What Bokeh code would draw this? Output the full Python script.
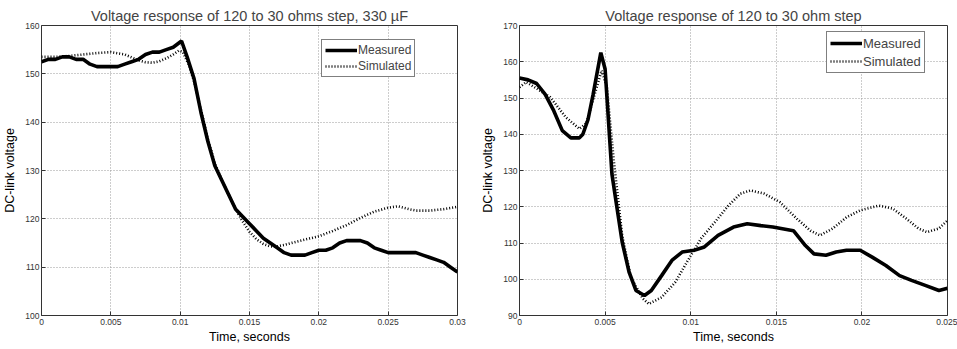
from bokeh.plotting import figure
from bokeh.layouts import row
from bokeh.models import Range1d, FixedTicker, Legend, LegendItem
from bokeh.embed import file_html
from bokeh.resources import INLINE

# ---------------- Left chart data (330 uF) ----------------
left_title = "Voltage response of 120 to 30 ohms step, 330 \u00b5F"
left_meas_t = [0, 0.0005, 0.001, 0.0015, 0.002, 0.0025, 0.003, 0.0035, 0.004, 0.0045,
               0.005, 0.0055, 0.006, 0.0065, 0.007, 0.0075, 0.008, 0.0085, 0.009, 0.0095,
               0.0101, 0.0105, 0.011, 0.0115, 0.012, 0.0125, 0.013, 0.0135, 0.014, 0.0145,
               0.015, 0.0155, 0.016, 0.0165, 0.017, 0.0175, 0.018, 0.0185, 0.019, 0.0195,
               0.02, 0.0205, 0.021, 0.0215, 0.022, 0.0225, 0.023, 0.0235, 0.024, 0.0245,
               0.025, 0.0255, 0.026, 0.0265, 0.027, 0.0275, 0.028, 0.0285, 0.029, 0.0295, 0.03]
left_meas_v = [152.5, 153, 153, 153.5, 153.5, 153, 153, 152, 151.5, 151.5,
               151.5, 151.5, 152, 152.5, 153, 154, 154.5, 154.5, 155, 155.5,
               156.8, 153.5, 149, 142, 136, 131, 128, 125, 122, 120.5,
               119, 117.5, 116, 115, 114, 113, 112.5, 112.5, 112.5, 113,
               113.5, 113.5, 114, 115, 115.5, 115.5, 115.5, 115, 114, 113.5,
               113, 113, 113, 113, 113, 112.5, 112, 111.5, 111, 110, 109]
left_sim_t = [0, 0.001, 0.002, 0.003, 0.004, 0.005, 0.006, 0.007, 0.0075, 0.008,
              0.0085, 0.009, 0.0095, 0.0099, 0.0102, 0.0106, 0.011, 0.0115, 0.012, 0.0125,
              0.013, 0.0135, 0.014, 0.0145, 0.015, 0.0155, 0.016, 0.0165, 0.017, 0.0175,
              0.018, 0.019, 0.02, 0.021, 0.022, 0.023, 0.024, 0.025, 0.0257, 0.0265,
              0.027, 0.028, 0.029, 0.03]
left_sim_v = [153.5, 153.5, 153.7, 154, 154.3, 154.5, 154, 152.8, 152.4, 152.3,
              152.6, 153.2, 154, 154.8, 154.5, 152, 148.5, 142.5, 136.5, 131.5,
              128, 125, 122, 119.5, 117.3, 115.8, 114.8, 114.3, 114.3, 114.6,
              115, 115.7, 116.4, 117.5, 118.7, 120.2, 121.5, 122.3, 122.6, 122,
              121.7, 121.7, 122, 122.5]
left_xticks = [0, 0.005, 0.01, 0.015, 0.02, 0.025, 0.03]
left_xlabels = ["0", "0.005", "0.01", "0.015", "0.02", "0.025", "0.03"]
left_yticks = [100, 110, 120, 130, 140, 150, 160]

# ---------------- Right chart data ----------------
right_title = "Voltage response of 120 to 30 ohm step"
right_meas_t = [0, 0.0005, 0.001, 0.0015, 0.002, 0.0025, 0.003, 0.0035, 0.0037, 0.004,
                0.0043, 0.00475, 0.005, 0.0054, 0.0057, 0.006, 0.0064, 0.0068, 0.0073, 0.0077,
                0.0083, 0.0089, 0.0095, 0.0102, 0.0108, 0.0116, 0.0125, 0.0133, 0.0141, 0.0148,
                0.016, 0.0167, 0.0172, 0.0179, 0.0185, 0.0191, 0.0199, 0.0206, 0.0214, 0.0222,
                0.0229, 0.0237, 0.0245, 0.025]
right_meas_v = [155.5, 155, 154, 151, 146.5, 141, 139, 139, 140, 144,
                151, 162.5, 158, 129, 119.5, 110.2, 102, 96.9, 95.5, 96.9,
                101, 105.2, 107.5, 108, 108.9, 112.1, 114.4, 115.3, 114.8, 114.4,
                113.4, 109.3, 107, 106.6, 107.5, 108, 108, 106.1, 103.8, 101,
                99.7, 98.3, 96.9, 97.5]
right_sim_t = [0, 0.0004, 0.0018, 0.0027, 0.0035, 0.0039, 0.00445, 0.0048, 0.0051, 0.0055,
               0.006, 0.0065, 0.0072, 0.00755, 0.0083, 0.0091, 0.0099, 0.0106, 0.0114, 0.0122,
               0.0129, 0.0135, 0.0143, 0.0152, 0.0162, 0.017, 0.01755, 0.0183, 0.0191, 0.0199,
               0.021, 0.0218, 0.0226, 0.0233, 0.0238, 0.0245, 0.025]
right_sim_v = [153, 154.4, 150.2, 144.7, 141.5, 143, 152, 157.6, 153, 133,
               112, 100.5, 94.7, 93.2, 95, 99.2, 105.7, 111.2, 115.7, 120.3,
               123.6, 124.5, 123.6, 121.3, 116.7, 113.4, 112.1, 114, 117.1, 119,
               120.3, 119.5, 116.7, 114, 113, 114, 116.2]
right_xticks = [0, 0.005, 0.01, 0.015, 0.02, 0.025]
right_xlabels = ["0", "0.005", "0.01", "0.015", "0.02", "0.025"]
right_yticks = [90, 100, 110, 120, 130, 140, 150, 160, 170]

legend_labels = ["Measured", "Simulated"]
FONT = "Liberation Sans"


def make_fig(title, width, height, bl, br, bt, bb, xr, yr, xt, xl, yt,
             mt, mv, st, sv, leg_loc, leg_font, leg_h):
    p = figure(width=width, height=height, output_backend="svg", toolbar_location=None,
               x_range=Range1d(*xr), y_range=Range1d(*yr),
               min_border_left=bl, min_border_right=br,
               min_border_top=bt, min_border_bottom=bb)
    p.title.text = title
    p.title.text_font = FONT
    p.title.text_font_size = "14.5px"
    p.title.text_font_style = "normal"
    p.title.align = "center"
    p.title.standoff = 3
    p.outline_line_color = "#333333"
    p.outline_line_width = 1
    p.background_fill_color = "white"
    p.border_fill_color = "white"

    for ax in (p.xaxis[0], p.yaxis[0]):
        ax.axis_line_color = None
        ax.major_tick_in = 4
        ax.major_tick_out = 0
        ax.minor_tick_line_color = None
        ax.major_tick_line_color = "#333333"
        ax.major_label_text_font = FONT
        ax.major_label_text_font_size = "8.5px"
        ax.major_label_text_color = "#333333"
        ax.axis_label_text_font = FONT
        ax.axis_label_text_font_size = "12.5px"
        ax.axis_label_text_font_style = "normal"
        ax.axis_label_text_color = "black"

    p.xaxis.ticker = FixedTicker(ticks=xt)
    p.xaxis.major_label_overrides = {t: l for t, l in zip(xt, xl)}
    p.xaxis.axis_label = "Time, seconds"
    p.xaxis.major_label_standoff = 3
    p.xaxis.axis_label_standoff = 2
    p.yaxis.ticker = FixedTicker(ticks=yt)
    p.yaxis.axis_label = "DC-link voltage"
    p.yaxis.major_label_standoff = 2
    p.yaxis.axis_label_standoff = 5

    p.grid.grid_line_color = "#9a9a9a"
    p.grid.grid_line_dash = "1 2"
    p.grid.grid_line_width = 1

    r1 = p.line(mt, mv, line_color="black", line_width=3.6)
    r2 = p.line(st, sv, line_color="black", line_width=2.6, line_dash="1 2")

    leg = Legend(items=[LegendItem(label=legend_labels[0], renderers=[r1]),
                        LegendItem(label=legend_labels[1], renderers=[r2])],
                 location=leg_loc)
    leg.border_line_color = "black"
    leg.border_line_width = 1
    leg.background_fill_alpha = 1
    leg.label_text_font = FONT
    leg.label_text_font_size = leg_font
    leg.glyph_width = 32
    leg.glyph_height = leg_h
    leg.label_height = leg_h
    leg.label_standoff = 1
    leg.padding = 3
    leg.spacing = 2
    leg.margin = 0
    p.add_layout(leg, "center")
    return p


p1 = make_fig(left_title, 478, 349, 41, 21, 25, 33, (0, 0.03), (100, 160),
              left_xticks, left_xlabels, left_yticks,
              left_meas_t, left_meas_v, left_sim_t, left_sim_v,
              (280, 238), "12px", 14)
p2 = make_fig(right_title, 479, 349, 36, 10, 25, 34, (0, 0.025), (90, 170),
              right_xticks, right_xlabels, right_yticks,
              right_meas_t, right_meas_v, right_sim_t, right_sim_v,
              (307, 242), "13px", 16)

layout = row(p1, p2)
open("out.html", "w").write(file_html(layout, INLINE))
